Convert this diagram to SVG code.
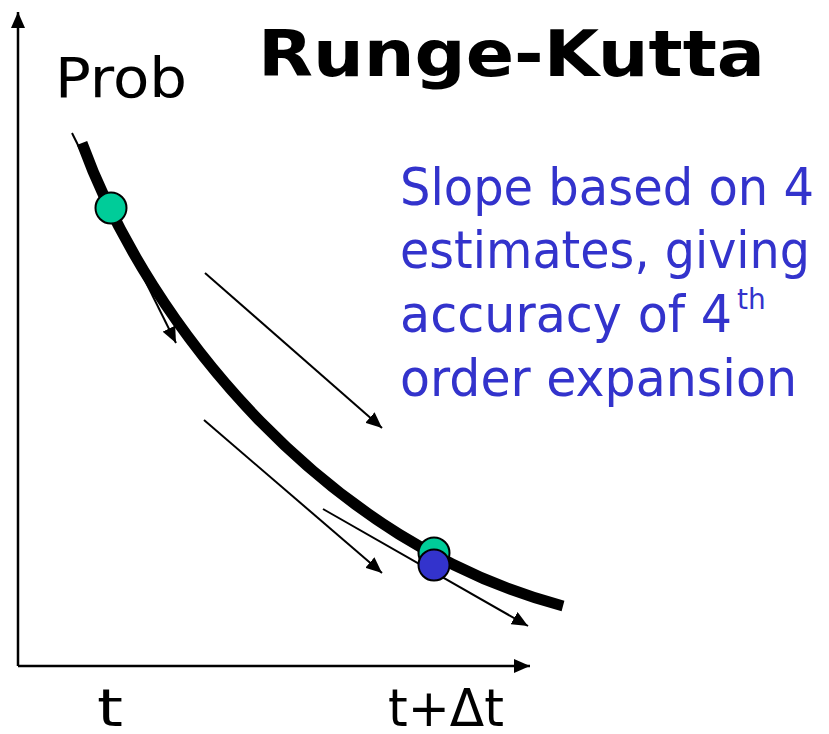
<svg xmlns="http://www.w3.org/2000/svg" width="829" height="734" viewBox="0 0 829 734">
<defs>
<marker id="ah" markerWidth="16" markerHeight="14" refX="16" refY="7" orient="auto" markerUnits="userSpaceOnUse">
<path d="M0,0 L16,7 L0,14 Z" fill="#000"/>
</marker>
</defs>
<style>
.thin{stroke:#000;stroke-width:2;fill:none}
.ax{stroke:#000;stroke-width:2.5;fill:none}
.lbl{font-family:"DejaVu Sans","Liberation Sans",sans-serif;fill:#000}
.blue{font-family:"DejaVu Sans","Liberation Sans",sans-serif;fill:#3333CC;font-size:52px}
.sup{font-family:"DejaVu Sans","Liberation Sans",sans-serif;fill:#3333CC;font-size:28px}
.pt{stroke:#000;stroke-width:2}
</style>
<rect width="829" height="734" fill="#fff"/>
<g id="axes">
<line class="ax" x1="18" y1="666" x2="18" y2="12" marker-end="url(#ah)"/>
<line class="ax" x1="18" y1="666" x2="530" y2="666" marker-end="url(#ah)"/>
</g>
<g id="curve">
<path d="M82,143 C150,330 330,545 563,606" stroke="#000" stroke-width="11" fill="none"/>
</g>
<g id="connectors">
<line class="thin" x1="72" y1="133" x2="176" y2="343" marker-end="url(#ah)"/>
<line class="thin" x1="205" y1="273" x2="382" y2="428" marker-end="url(#ah)"/>
<line class="thin" x1="204" y1="420" x2="382" y2="573" marker-end="url(#ah)"/>
<line class="thin" x1="323" y1="509" x2="528" y2="626" marker-end="url(#ah)"/>
</g>
<g id="point-start"><circle class="pt" cx="111" cy="208" r="15.5" fill="#00CC99"/></g>
<g id="point-end-green"><circle class="pt" cx="434" cy="553" r="15.5" fill="#00CC99"/></g>
<g id="point-end-blue"><circle class="pt" cx="434" cy="565" r="15.5" fill="#3333CC"/></g>
<g id="title"><text class="lbl" x="258" y="76" font-size="64" font-weight="bold" textLength="507" lengthAdjust="spacingAndGlyphs">Runge-Kutta</text></g>
<g id="ylabel"><text class="lbl" x="55" y="97" font-size="56" textLength="132" lengthAdjust="spacingAndGlyphs">Prob</text></g>
<g id="xlabels">
<text class="lbl" x="97" y="726" font-size="52" textLength="26" lengthAdjust="spacingAndGlyphs">t</text>
<text class="lbl" x="388" y="726" font-size="52" textLength="116" lengthAdjust="spacingAndGlyphs">t+Δt</text>
</g>
<g id="note">
<text class="blue" x="400" y="205" textLength="414" lengthAdjust="spacingAndGlyphs">Slope based on 4</text>
<text class="blue" x="400" y="268" textLength="410" lengthAdjust="spacingAndGlyphs">estimates, giving</text>
<text class="blue" x="400" y="332" textLength="332" lengthAdjust="spacingAndGlyphs">accuracy of 4</text>
<text class="sup" x="737" y="309">th</text>
<text class="blue" x="400" y="396" textLength="397" lengthAdjust="spacingAndGlyphs">order expansion</text>
</g>
</svg>
